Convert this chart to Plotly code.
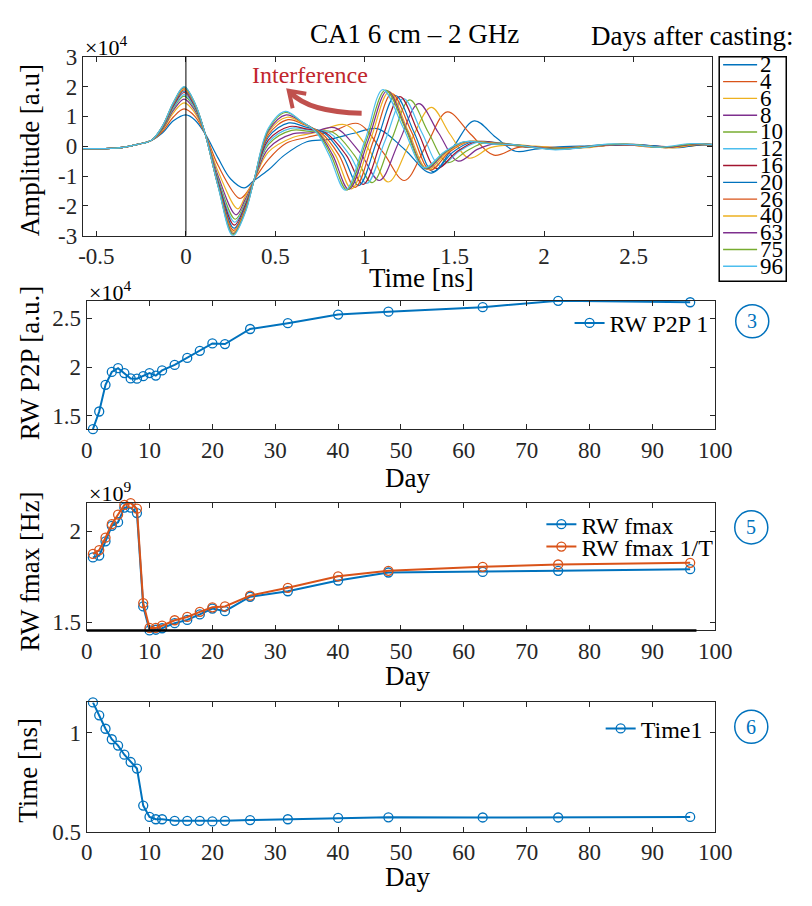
import plotly.graph_objects as go

FONT = "Liberation Serif"
W, H = 812, 906

# ---------------- data ----------------
DAYS_CAST = [2, 4, 6, 8, 10, 12, 16, 20, 26, 40, 63, 75, 96]
WAVE_COLORS = ["#0072BD", "#D95319", "#EDB120", "#7E2F8E", "#77AC30", "#4DBEEE", "#A2142F"]
AMP_SCALE = 1e4

# received waveform key points: (time [ns], amplitude [x1e4 a.u.])
WAVE_D02 = [(-0.58, -0.08), (-0.45, -0.08), (-0.35, -0.04), (-0.27, 0.06), (-0.19, 0.2), (-0.13, 0.45), (-0.07, 0.85), (0.0, 1.05), (0.05, 0.88), (0.107, 0.42), (0.18, -0.4), (0.25, -1.1), (0.325, -1.4), (0.38, -1.15), (0.46, -0.8), (0.55, -0.3), (0.675, 0.15), (0.8, 0.23), (0.95, 0.45), (1.07, 0.59), (1.22, -0.1), (1.37, -0.9), (1.49, -0.05), (1.61, 0.85), (1.73, 0.3), (1.84, -0.17), (1.95, -0.1), (2.08, -0.02), (2.2, 0.0), (2.36, 0.05), (2.52, 0.03), (2.68, -0.04), (2.8, 0.02), (2.9, 0.06), (2.94, 0.05)]
WAVE_D04 = [(-0.58, -0.08), (-0.45, -0.08), (-0.35, -0.04), (-0.27, 0.06), (-0.19, 0.2), (-0.13, 0.5), (-0.07, 0.98), (-0.01, 1.25), (0.05, 1.0), (0.107, 0.42), (0.18, -0.65), (0.30, -1.75), (0.34, -1.55), (0.38, -1.15), (0.46, -0.45), (0.56, 0.1), (0.68, 0.3), (0.82, 0.5), (0.96, 0.76), (1.1, -0.2), (1.22, -1.15), (1.34, 0.0), (1.46, 1.15), (1.59, 0.4), (1.72, -0.3), (1.85, -0.05), (1.98, -0.02), (2.12, -0.05), (2.3, 0.01), (2.46, 0.04), (2.62, -0.03), (2.77, 0.0), (2.88, 0.06), (2.94, 0.05)]
WAVE_D06 = [(-0.58, -0.08), (-0.45, -0.08), (-0.35, -0.04), (-0.27, 0.06), (-0.19, 0.2), (-0.13, 0.55), (-0.07, 1.12), (-0.01, 1.45), (0.05, 1.12), (0.107, 0.42), (0.18, -0.85), (0.29, -2.1), (0.33, -1.7), (0.38, -1.15), (0.46, -0.2), (0.6, 0.3), (0.72, 0.45), (0.89, 0.72), (1.02, -0.1), (1.13, -1.2), (1.25, 0.1), (1.37, 1.3), (1.475, 0.4), (1.58, -0.4), (1.7, -0.05), (1.82, 0.05), (1.95, 0.0), (2.1, -0.06), (2.28, 0.0), (2.44, 0.05), (2.6, -0.02), (2.75, -0.01), (2.88, 0.07), (2.94, 0.05)]
WAVE_D08 = [(-0.58, -0.08), (-0.45, -0.08), (-0.35, -0.04), (-0.27, 0.06), (-0.19, 0.2), (-0.13, 0.58), (-0.07, 1.2), (-0.01, 1.58), (0.05, 1.2), (0.107, 0.42), (0.18, -1.0), (0.28, -2.3), (0.33, -1.8), (0.38, -1.15), (0.46, -0.08), (0.6, 0.42), (0.7, 0.45), (0.83, 0.62), (0.97, -0.2), (1.08, -1.15), (1.19, 0.15), (1.30, 1.43), (1.41, 0.45), (1.52, -0.5), (1.63, -0.1), (1.74, 0.1), (1.86, 0.03), (2.0, -0.05), (2.16, -0.06), (2.34, 0.03), (2.5, 0.06), (2.66, -0.02), (2.8, 0.0), (2.9, 0.06), (2.94, 0.05)]
WAVE_D10 = [(-0.58, -0.08), (-0.45, -0.08), (-0.35, -0.04), (-0.27, 0.06), (-0.19, 0.21), (-0.13, 0.6), (-0.07, 1.27), (-0.01, 1.68), (0.05, 1.26), (0.107, 0.42), (0.18, -1.1), (0.275, -2.45), (0.33, -1.9), (0.38, -1.15), (0.46, 0.05), (0.59, 0.53), (0.69, 0.5), (0.82, 0.47), (0.94, -0.3), (1.04, -1.22), (1.145, 0.17), (1.25, 1.55), (1.355, 0.45), (1.46, -0.55), (1.57, -0.15), (1.67, 0.12), (1.82, 0.06), (1.97, -0.04), (2.14, -0.07), (2.32, 0.02), (2.48, 0.05), (2.64, -0.03), (2.78, -0.01), (2.9, 0.05), (2.94, 0.04)]
WAVE_D12 = [(-0.58, -0.08), (-0.45, -0.08), (-0.35, -0.04), (-0.27, 0.06), (-0.19, 0.21), (-0.13, 0.62), (-0.07, 1.3), (-0.01, 1.73), (0.05, 1.29), (0.107, 0.42), (0.18, -1.15), (0.272, -2.55), (0.33, -1.95), (0.38, -1.15), (0.46, 0.12), (0.585, 0.6), (0.68, 0.55), (0.80, 0.45), (0.915, -0.3), (1.01, -1.25), (1.112, 0.18), (1.215, 1.6), (1.318, 0.45), (1.42, -0.65), (1.53, -0.15), (1.64, 0.15), (1.8, 0.06), (1.95, -0.05), (2.12, -0.09), (2.3, 0.02), (2.46, 0.06), (2.62, -0.02), (2.76, -0.02), (2.88, 0.06), (2.94, 0.05)]
WAVE_D16 = [(-0.58, -0.08), (-0.45, -0.08), (-0.35, -0.04), (-0.27, 0.06), (-0.19, 0.21), (-0.13, 0.63), (-0.07, 1.35), (-0.01, 1.8), (0.05, 1.33), (0.107, 0.42), (0.18, -1.2), (0.27, -2.65), (0.33, -2.0), (0.38, -1.15), (0.46, 0.2), (0.58, 0.66), (0.67, 0.58), (0.78, 0.45), (0.895, -0.3), (0.99, -1.28), (1.092, 0.2), (1.195, 1.66), (1.298, 0.45), (1.40, -0.75), (1.51, -0.2), (1.62, 0.15), (1.78, 0.07), (1.94, -0.04), (2.1, -0.08), (2.28, 0.0), (2.45, 0.05), (2.6, 0.01), (2.75, -0.03), (2.88, 0.05), (2.94, 0.04)]
WAVE_D20 = [(-0.58, -0.08), (-0.45, -0.08), (-0.35, -0.04), (-0.27, 0.06), (-0.19, 0.21), (-0.13, 0.65), (-0.07, 1.38), (-0.01, 1.85), (0.05, 1.36), (0.107, 0.42), (0.18, -1.25), (0.268, -2.75), (0.33, -2.07), (0.38, -1.15), (0.46, 0.3), (0.575, 0.78), (0.665, 0.65), (0.77, 0.45), (0.875, -0.3), (0.965, -1.32), (1.068, 0.2), (1.17, 1.7), (1.275, 0.45), (1.38, -0.85), (1.49, -0.2), (1.6, 0.15), (1.76, 0.07), (1.92, -0.03), (2.1, -0.1), (2.26, -0.01), (2.44, 0.06), (2.6, 0.02), (2.74, -0.05), (2.87, 0.05), (2.94, 0.03)]
WAVE_D26 = [(-0.58, -0.08), (-0.45, -0.08), (-0.35, -0.04), (-0.27, 0.06), (-0.19, 0.21), (-0.13, 0.66), (-0.07, 1.41), (-0.01, 1.9), (0.05, 1.39), (0.107, 0.42), (0.18, -1.3), (0.266, -2.82), (0.33, -2.12), (0.38, -1.15), (0.46, 0.38), (0.57, 0.89), (0.66, 0.72), (0.755, 0.45), (0.855, -0.3), (0.945, -1.38), (1.048, 0.2), (1.15, 1.76), (1.258, 0.5), (1.365, -0.8), (1.47, -0.2), (1.58, 0.15), (1.74, 0.08), (1.9, -0.02), (2.08, -0.08), (2.25, -0.02), (2.42, 0.07), (2.58, 0.0), (2.72, -0.04), (2.86, 0.06), (2.94, 0.04)]
WAVE_D40 = [(-0.58, -0.08), (-0.45, -0.08), (-0.35, -0.04), (-0.27, 0.06), (-0.19, 0.21), (-0.13, 0.67), (-0.07, 1.43), (-0.01, 1.94), (0.05, 1.41), (0.107, 0.42), (0.18, -1.32), (0.265, -2.88), (0.33, -2.16), (0.38, -1.15), (0.46, 0.45), (0.565, 0.97), (0.655, 0.76), (0.745, 0.45), (0.835, -0.3), (0.925, -1.43), (1.03, 0.2), (1.135, 1.82), (1.242, 0.5), (1.35, -0.78), (1.46, -0.2), (1.57, 0.15), (1.72, 0.1), (1.88, 0.0), (2.06, -0.08), (2.24, -0.05), (2.4, 0.06), (2.55, 0.03), (2.7, -0.06), (2.85, 0.06), (2.94, 0.05)]
WAVE_D63 = [(-0.58, -0.08), (-0.45, -0.08), (-0.35, -0.04), (-0.27, 0.06), (-0.19, 0.21), (-0.13, 0.68), (-0.07, 1.45), (-0.01, 1.97), (0.05, 1.43), (0.107, 0.42), (0.18, -1.34), (0.264, -2.93), (0.33, -2.2), (0.38, -1.15), (0.46, 0.5), (0.56, 1.05), (0.65, 0.8), (0.74, 0.45), (0.82, -0.3), (0.91, -1.45), (1.018, 0.2), (1.125, 1.86), (1.232, 0.55), (1.34, -0.76), (1.45, -0.2), (1.56, 0.15), (1.72, 0.08), (1.87, 0.02), (2.06, -0.1), (2.22, -0.04), (2.38, 0.05), (2.52, 0.04), (2.68, -0.05), (2.84, 0.07), (2.94, 0.06)]
WAVE_D75 = [(-0.58, -0.08), (-0.45, -0.08), (-0.35, -0.04), (-0.27, 0.06), (-0.19, 0.21), (-0.13, 0.68), (-0.07, 1.46), (-0.01, 1.99), (0.05, 1.44), (0.107, 0.42), (0.18, -1.35), (0.263, -2.96), (0.33, -2.22), (0.38, -1.15), (0.46, 0.55), (0.555, 1.13), (0.645, 0.83), (0.735, 0.45), (0.81, -0.3), (0.90, -1.47), (1.008, 0.2), (1.115, 1.88), (1.225, 0.6), (1.335, -0.74), (1.445, -0.2), (1.555, 0.15), (1.7, 0.09), (1.85, 0.03), (2.04, -0.1), (2.2, -0.05), (2.36, 0.06), (2.5, 0.06), (2.66, -0.04), (2.83, 0.08), (2.94, 0.06)]
WAVE_D96 = [(-0.58, -0.08), (-0.45, -0.08), (-0.35, -0.04), (-0.27, 0.06), (-0.19, 0.21), (-0.13, 0.69), (-0.07, 1.47), (-0.01, 2.0), (0.05, 1.45), (0.107, 0.42), (0.18, -1.36), (0.262, -3.0), (0.33, -2.25), (0.38, -1.15), (0.46, 0.6), (0.555, 1.17), (0.64, 0.85), (0.73, 0.45), (0.80, -0.3), (0.89, -1.47), (1.0, 0.2), (1.10, 1.9), (1.215, 0.6), (1.33, -0.72), (1.44, -0.2), (1.55, 0.15), (1.7, 0.08), (1.85, 0.04), (2.05, -0.12), (2.2, -0.06), (2.35, 0.07), (2.5, 0.05), (2.65, -0.03), (2.82, 0.09), (2.94, 0.05)]
WAVES = [WAVE_D02, WAVE_D04, WAVE_D06, WAVE_D08, WAVE_D10, WAVE_D12, WAVE_D16,
         WAVE_D20, WAVE_D26, WAVE_D40, WAVE_D63, WAVE_D75, WAVE_D96]

# per-day indicators
DAY = [1, 2, 3, 4, 5, 6, 7, 8, 9, 10, 11, 12, 14, 16, 18, 20, 22, 26, 32, 40, 48, 63, 75, 96]
P2P = [1.365, 1.546, 1.819, 1.951, 1.990, 1.940, 1.885, 1.882, 1.908, 1.940, 1.914, 1.967,
       2.023, 2.095, 2.168, 2.243, 2.237, 2.391, 2.451, 2.539, 2.569, 2.615, 2.680, 2.665]   # x1e4
FMAX = [1.857, 1.867, 1.945, 2.030, 2.050, 2.130, 2.130, 2.100, 1.588, 1.456, 1.460, 1.468,
        1.496, 1.514, 1.544, 1.576, 1.562, 1.641, 1.671, 1.730, 1.774, 1.777, 1.783, 1.792]  # x1e9
FMAX_T = [1.876, 1.897, 1.965, 2.039, 2.092, 2.145, 2.155, 2.124, 1.606, 1.470, 1.470, 1.482,
          1.512, 1.530, 1.558, 1.583, 1.588, 1.647, 1.690, 1.753, 1.783, 1.805, 1.818, 1.827]  # x1e9
TIME1 = [1.153, 1.088, 1.020, 0.967, 0.935, 0.889, 0.852, 0.819, 0.632, 0.575, 0.563, 0.563,
         0.555, 0.555, 0.555, 0.552, 0.555, 0.559, 0.563, 0.570, 0.573, 0.572, 0.572, 0.575]

BLUE = "#0072BD"
ORANGE = "#D95319"
AX_COL = "#262626"


def px(x):
    return x / W


def py(y):
    return 1 - y / H


fig = go.Figure()

# ---------------- panel 1: waveforms ----------------
for i, (day, pts) in enumerate(zip(DAYS_CAST, WAVES)):
    fig.add_trace(go.Scatter(
        x=[p[0] for p in pts], y=[p[1] * AMP_SCALE for p in pts],
        mode="lines", line=dict(color=WAVE_COLORS[i % 7], width=1.2, shape="spline", smoothing=1.0),
        name=str(day), showlegend=False, xaxis="x", yaxis="y", hoverinfo="skip"))

# ---------------- panels 2-4 ----------------
mk = dict(symbol="circle-open", size=9, line=dict(width=1.3))
fig.add_trace(go.Scatter(x=DAY, y=[v * 1e4 for v in P2P], mode="lines+markers", name="RW P2P 1",
                         line=dict(color=BLUE, width=2), marker=dict(color=BLUE, **mk),
                         xaxis="x2", yaxis="y2", legend="legend2", cliponaxis=False))
fig.add_trace(go.Scatter(x=DAY, y=[v * 1e9 for v in FMAX], mode="lines+markers", name="RW fmax",
                         line=dict(color=BLUE, width=2), marker=dict(color=BLUE, **mk),
                         xaxis="x3", yaxis="y3", legend="legend3", cliponaxis=False))
fig.add_trace(go.Scatter(x=DAY, y=[v * 1e9 for v in FMAX_T], mode="lines+markers", name="RW fmax 1/T",
                         line=dict(color=ORANGE, width=2), marker=dict(color=ORANGE, **mk),
                         xaxis="x3", yaxis="y3", legend="legend5", cliponaxis=False))
fig.add_trace(go.Scatter(x=DAY, y=TIME1, mode="lines+markers", name="Time1",
                         line=dict(color=BLUE, width=2), marker=dict(color=BLUE, **mk),
                         xaxis="x4", yaxis="y4", legend="legend4", cliponaxis=False))


def axis(domain, rng, tickvals, ticktext, anchor):
    return dict(domain=domain, range=rng, tickvals=tickvals, ticktext=ticktext,
                ticks="inside", ticklen=5, tickwidth=1, tickcolor=AX_COL,
                showline=True, linecolor=AX_COL, linewidth=1, mirror="ticks",
                showgrid=False, zeroline=False, anchor=anchor,
                tickfont=dict(family=FONT, size=23, color=AX_COL))


x1_ticks = [-0.5, 0, 0.5, 1, 1.5, 2, 2.5]
y1_ticks = [-3, -2, -1, 0, 1, 2, 3]
day_ticks = list(range(0, 101, 10))
dom_x1 = [px(79), px(727)]
dom_x = [px(83), px(730)]

layout_axes = dict(
    xaxis=axis(dom_x1, [-0.576, 2.94], x1_ticks, ["-0.5", "0", "0.5", "1", "1.5", "2", "2.5"], "y"),
    yaxis=axis([py(230), py(46)], [-3 * AMP_SCALE, 3 * AMP_SCALE], [v * AMP_SCALE for v in y1_ticks],
               [str(v) for v in y1_ticks], "x"),
    xaxis2=axis(dom_x, [0, 100], day_ticks, [str(v) for v in day_ticks], "y2"),
    yaxis2=axis([py(429), py(297)], [min(P2P) * 1e4, max(P2P) * 1e4], [1.5e4, 2e4, 2.5e4],
                ["1.5", "2", "2.5"], "x2"),
    xaxis3=axis(dom_x, [0, 100], day_ticks, [str(v) for v in day_ticks], "y3"),
    yaxis3=axis([py(636), py(505)], [min(FMAX + FMAX_T) * 1e9, max(FMAX + FMAX_T) * 1e9], [1.5e9, 2e9],
                ["1.5", "2"], "x3"),
    xaxis4=axis(dom_x, [0, 100], day_ticks, [str(v) for v in day_ticks], "y4"),
    yaxis4=axis([py(843), py(710)], [0.5, max(TIME1)], [0.5, 1], ["0.5", "1"], "x4"),
)

leg_font = dict(family=FONT, size=24, color="black")


def legend_at(x_left, top):
    return dict(x=px(x_left), xanchor="left", y=py(top), yanchor="top", bgcolor="rgba(0,0,0,0)",
                font=leg_font, itemwidth=30)


legends = dict(
    legend2=legend_at(580, 297),
    legend3=legend_at(551, 504),
    legend5=legend_at(551, 527),
    legend4=legend_at(612, 714),
)

shapes = []
annotations = []

# reference line at t = 0
shapes.append(dict(type="line", xref="x", yref="y domain", x0=0, x1=0, y0=0, y1=1,
                   line=dict(color="black", width=1)))
# heavy baseline of the fmax panel
shapes.append(dict(type="line", xref="x3", yref="y3 domain", x0=0, x1=DAY[-1] + 1, y0=0, y1=0,
                   line=dict(color="black", width=2.5)))

# waveform legend (box, swatches, labels)
shapes.append(dict(type="rect", xref="paper", yref="paper", x0=px(734), x1=px(803), y0=py(277), y1=py(46),
                   line=dict(color="black", width=1.5), fillcolor="white"))
for i, day in enumerate(DAYS_CAST):
    yy = 54.3 + i * 17.27
    shapes.append(dict(type="line", xref="paper", yref="paper", x0=px(738), x1=px(773), y0=py(yy), y1=py(yy),
                       line=dict(color=WAVE_COLORS[i % 7], width=1.4)))
    annotations.append(dict(text=str(day), xref="paper", yref="paper", x=px(774), y=py(yy),
                            xanchor="left", yanchor="middle", showarrow=False,
                            font=dict(family=FONT, size=23, color="black")))

# "Interference" callout with curved arrow
annotations.append(dict(text="Interference", xref="paper", yref="paper", x=px(313), y=py(65),
                        xanchor="center", yanchor="middle", showarrow=False,
                        font=dict(family=FONT, size=24, color="#C1272D")))
arrow_col = "#C0504D"
shapes.append(dict(type="path", xref="paper", yref="paper",
                   path=f"M {px(366)},{py(104)} Q {px(312)},{py(103)} {px(293)},{py(83)}",
                   line=dict(color=arrow_col, width=5)))
shapes.append(dict(type="path", xref="paper", yref="paper",
                   path=f"M {px(309)},{py(84)} L {px(291)},{py(81)} L {px(295)},{py(99)}",
                   line=dict(color=arrow_col, width=4)))

# circled panel numbers
for num, cx, cy in [("3", 768, 318), ("5", 767, 530), ("6", 767, 735)]:
    r = 17
    shapes.append(dict(type="circle", xref="paper", yref="paper", x0=px(cx - r), x1=px(cx + r),
                       y0=py(cy + r), y1=py(cy - r), line=dict(color=BLUE, width=1.5)))
    annotations.append(dict(text=num, xref="paper", yref="paper", x=px(cx), y=py(cy),
                            xanchor="center", yanchor="middle", showarrow=False,
                            font=dict(family=FONT, size=20, color=BLUE)))


# titles and exponent labels
def label(text, x, y, size=26, angle=0, xanchor="center"):
    annotations.append(dict(text=text, xref="paper", yref="paper", x=px(x), y=py(y),
                            xanchor=xanchor, yanchor="middle", showarrow=False, textangle=angle,
                            font=dict(family=FONT, size=size, color="black")))


label("CA1 6 cm \u2013 2 GHz", 420, 23, size=27)
label("Days after casting:", 812, 25, size=27, xanchor="right")
label("\u00d710<sup>4</sup>", 79, 35, size=22, xanchor="left")
label("\u00d710<sup>4</sup>", 83, 287, size=22, xanchor="left")
label("\u00d710<sup>9</sup>", 83, 494, size=22, xanchor="left")
label("Time [ns]", 428, 274, size=27)
label("Day", 413, 479, size=27)
label("Day", 413, 683, size=27)
label("Day", 413, 890, size=27)
label("Amplitude [a.u]", 25, 142, size=27, angle=-90)
label("RW P2P [a.u.]", 25, 361, size=27, angle=-90)
label("RW fmax [Hz]", 25, 575, size=27, angle=-90)
label("Time [ns]", 23, 780, size=27, angle=-90)

fig.update_layout(
    width=W, height=H, margin=dict(l=0, r=0, t=0, b=0),
    paper_bgcolor="white", plot_bgcolor="white",
    font=dict(family=FONT, color="black"),
    shapes=shapes, annotations=annotations,
    **layout_axes, **legends,
)

fig.write_html("out.html")
